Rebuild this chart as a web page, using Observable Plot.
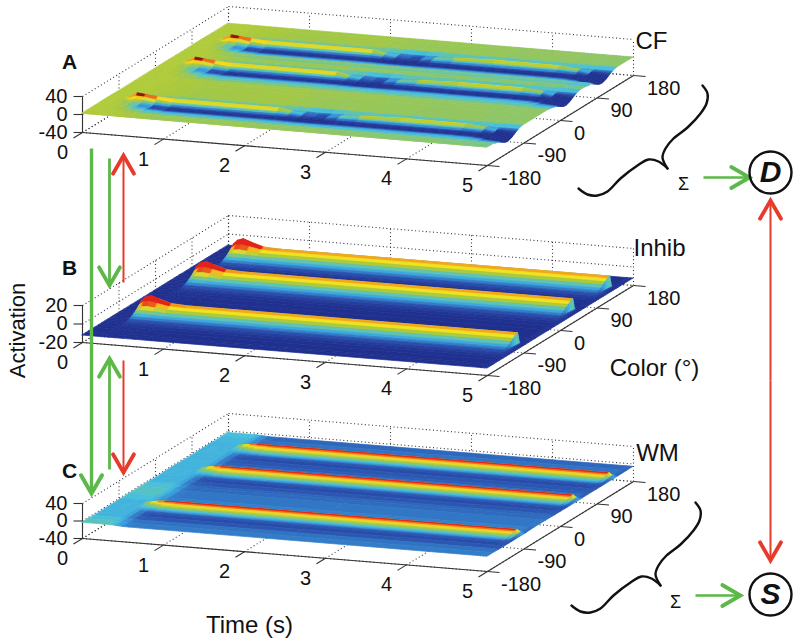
<!DOCTYPE html>
<html><head><meta charset="utf-8">
<script src="https://cdn.jsdelivr.net/npm/d3@7"></script>
<script src="https://cdn.jsdelivr.net/npm/@observablehq/plot@0.6"></script>
<style>
html,body{margin:0;padding:0;background:#fff}
svg g[aria-label="area"]{filter:blur(0.6px)}
</style></head><body><div id="chart"></div>
<script>
const timeTicks=[0,1,2,3,4,5];
const colorTicks=[-180,-90,0,90,180];
const zTicksCF=[-40,0,40], zTicksInhib=[-20,0,20], zTicksWM=[-40,0,40];

// CF field: activation relative to a stimulus colour, read per time sample
const cfTimes=[0,.2,.25,.35,.45,.6,.8,2.1,2.25,2.4,2.55,2.7,2.85,3.1,3.6,4.4,4.65,4.78,5];
const cfRest=[1.8,1.8,1.8,1.8,1.7,1.5,1.4,.9,.9,.9,.8,.8,.7,.6,.4,.2,.1,.1,0];
const cfCentres=[-113,30,119];
const cfOffsets=[-67,-55,-46,-38,-32,-27,-22,-18,-14,-10,-6,-3,0,3,6,10,20];
const cfRows=[
[0,0,0,0,0,0,0,0,0,0,0,0,0,0,0,0,0],
[0,0,0,0,0,0,0,0,0,0,0,0,0,0,0,0,0],
[0,0,0,0,0,-.2,-.4,-.5,-.4,-.2,0,1,3,1,0,0,0],
[0,0,-.3,-.6,-1,-1.4,-1.8,-2,-1.8,-1,2,8,13,8,2.5,0,0],
[0,-.3,-.8,-1.5,-3,-4,-5,-5.5,-5,-3,1,7,11,6,1,-1.5,0],
[0,-.8,-1.8,-3,-5,-7,-9,-10,-9.5,-7,-2,3,8.5,4.5,-1,-3,0],
[0,-1.2,-2.5,-4,-6.5,-9,-12,-13,-13,-10,-6,-.5,6,4.5,-2.5,-4,0],
[0,-1.2,-2.5,-4,-6.5,-9,-12,-13,-13,-10,-6,-.5,5.8,4.5,-2.5,-4,0],
[0,-1.2,-2.5,-4,-6.5,-9,-12,-13,-13,-10,-7,-4,-1,-2,-4,-4.5,0],
[0,-1.2,-2.5,-4.5,-7,-10,-13,-13.5,-13.5,-12,-10,-8,-6,-6,-6.5,-6,-.5],
[0,-1.2,-2.5,-4.5,-7,-10,-13,-14,-14,-13,-12,-11.5,-11,-11,-10,-8,-.5],
[0,-1.2,-2.5,-4.5,-7,-10,-13,-14,-13.5,-12,-11,-10,-9,-9,-9,-7,-.5],
[0,-1.2,-2.5,-4.5,-7,-9.5,-12,-13,-13,-10,-7,-5,-3,-4,-5,-5,0],
[0,-1.2,-2.5,-4.2,-6.5,-9,-12,-13,-13,-9,-5,-2,2.5,1,-3,-4.5,0],
[0,-1.2,-2.5,-4,-6.5,-9,-12,-13,-13,-9,-4,-1,5.5,4,-2.5,-4.5,0],
[0,-1.2,-2.5,-4,-6.5,-9,-12,-13,-13,-9,-4,-1,4.8,3.5,-2.5,-4.5,0],
[0,-1.2,-2.5,-4.2,-7,-10,-12.5,-13,-13,-10,-6,-3,1,-1,-3,-5,0],
[0,-1.5,-3,-6,-9,-12,-14,-15,-15,-14,-12,-10,-8,-8,-8,-6,0],
[0,-2,-5,-9,-15,-21,-26,-28,-28,-26,-23,-20,-16,-13,-10,-6,0]];
const cfOpenColours=[-180,-165,-50,-30,75,170,180];
const cfOpenValues=[0,0,0,0,0,0,0];

// Inhib field
const inhibTimes=[0,.24,.28,.33,.4,.5,.65,.85,4.92,4.935,4.97,5];
const inhibRest=[0,0,0,0,0,0,0,0,0,0,0,0];
const inhibCentres=[-89,47,138];
const inhibOffsets=[-75,-60,-50,-42,-36,-30,-25,-20,-15,-10,-5,0,3,6,12];
const inhibRows=[
[0,0,0,0,0,0,0,0,0,0,0,0,0,0,0],
[0,0,0,0,0,0,0,0,0,0,0,0,0,0,0],
[0,0,.2,.6,1.4,2.6,3.8,5.2,7,9.2,11.8,15,8,1,0],
[0,0,.2,.6,1.4,2.7,4.2,6.2,8.5,11.2,15,19,10,2,0],
[0,0,.2,.6,1.4,2.7,4.2,6.2,8.5,11.8,16,21,11,2,0],
[0,0,.2,.6,1.4,2.7,4.2,6,8.2,11,14.5,18,9,2,0],
[0,0,.2,.6,1.4,2.6,3.9,5.4,7.5,9.8,12,14,7,1,0],
[0,0,.2,.6,1.4,2.6,3.9,5.4,7.5,9.6,11.6,13,6,1,0],
[0,0,.2,.6,1.4,2.6,3.9,5.4,7.5,9.6,11.6,13,6,1,0],
[0,0,.2,.5,1.2,1.4,1.6,1.6,1.4,1.2,1,.8,.4,0,0],
[0,0,.1,.2,.4,.4,.4,.4,.3,.2,.1,0,0,0,0],
[0,0,0,0,0,0,0,0,0,0,0,0,0,0,0]];
const inhibOpenColours=[-180,-170,-60,60,160,180];
const inhibOpenValues=[0,0,0,0,0,0];

// WM field
const wmTimes=[0,.33,.36,.42,.5,.58,.72,2.5,4.92,4.96,5];
const wmRest=[2.1,2.1,2,1.2,.3,0,0,0,0,0,0];
const wmCentres=[-91,47,136];
const wmOffsets=[-60,-46,-34,-28,-24,-20,-16,-12,-8,-5,-2,0,2,4,8];
const wmRows=[
[0,0,0,0,0,0,0,0,0,0,0,0,0,0,0],
[0,0,0,0,0,0,0,0,0,0,0,0,0,0,0],
[0,0,0,0,0,0,.3,.6,1,1.2,1.3,1.3,1,.4,0],
[0,0,0,.2,.5,1,1.6,2.2,2.8,3.5,4,4,3.5,1.5,.3],
[.2,0,-.1,.3,1,1.8,2.6,3.4,4.4,5.4,6.8,7.2,6.4,3,.6],
[.3,-.1,-.2,.5,1.4,2.4,3.4,4.4,5.4,6.4,7.8,8.4,8,4,.8],
[.4,-.1,-.3,.7,1.8,3,4,5,6,7,8.3,9,8.7,4.6,1],
[.3,-.2,-.4,.7,1.8,3,4,5,6,7,8.3,9,8.7,4.6,1],
[.4,-.1,-.3,.7,1.8,3,4,5,6,7,8.3,9,8.7,4.6,1],
[.2,-.1,-.1,.1,.4,.8,1.2,1.6,2,2.4,2.8,3,2.6,1.5,.4],
[.2,0,0,0,0,0,0,0,0,0,0,0,0,0,0]];
const wmOpenColours=[-180,-165,-65,-35,-20,68,165,180];
const wmOpenValues=[.7,.9,.8,.6,.4,.1,.3,.5];

// Jet-like colour ramp as printed
const rampLevels=[0,.14,.28,.38,.44,.5,.56,.64,.72,.84,.93,1];
const rampColours=["#20308f","#2a52b0","#3a9fdc","#48c0dc","#66c4a8","#8dc66a","#a8c83e","#d0d630","#f5e41e","#f59a1e","#e2231a","#5a0c0c"];

const panels=[
 {name:"CF",floor:132,rise:36,zMin:-40,zMax:40,zTicks:zTicksCF,times:cfTimes,rest:cfRest,centres:cfCentres,offsets:cfOffsets,rows:cfRows,openC:cfOpenColours,openV:cfOpenValues,
  zOf:a=>a<0?a*.55:a,levelOf:a=>Math.min(.97,(a+12)/24)},
 {name:"Inhib",floor:342,rise:37,zMin:-20,zMax:20,zTicks:zTicksInhib,times:inhibTimes,rest:inhibRest,centres:inhibCentres,offsets:inhibOffsets,rows:inhibRows,openC:inhibOpenColours,openV:inhibOpenValues,
  zOf:a=>a-12.5,levelOf:a=>Math.min(.93,a/15)},
 {name:"WM",floor:538,rise:35,zMin:-40,zMax:40,zTicks:zTicksWM,times:wmTimes,rest:wmRest,centres:wmCentres,offsets:wmOffsets,rows:wmRows,openC:wmOpenColours,openV:wmOpenValues,
  zOf:a=>a-7,levelOf:a=>Math.min(.93,.14+.095*a)}
];

const px=(t,c)=>82+81*t+(c+180)/360*146;
const py=(p,t,c,z)=>p.floor+6.6*t-(c+180)/360*90-(z-p.zMin)/(p.zMax-p.zMin)*p.rise;

function surfaceRows(p){
  const cols=[];
  p.openC.forEach((c,i)=>cols.push({c,dev:p.times.map(()=>p.openV[i])}));
  p.centres.forEach(ctr=>p.offsets.forEach((o,j)=>cols.push({c:ctr+o,dev:p.rows.map(r=>r[j])})));
  cols.sort((a,b)=>a.c-b.c);
  const out=[];
  for(let k=cols.length-2;k>=0;k--){
    const lo=cols[k],hi=cols[k+1];
    for(let i=0;i<p.times.length-1;i++){
      const id=p.name+"-"+k+"-"+i;
      const avg=(lo.dev[i]+lo.dev[i+1]+hi.dev[i]+hi.dev[i+1])/4+(p.rest[i]+p.rest[i+1])/2;
      const level=Math.max(0,p.levelOf(avg));
      for(const n of [i,i+1]){
        const t=p.times[n];
        out.push({id,level,
          x1:px(t,lo.c),y1:py(p,t,lo.c,p.zOf(lo.dev[n]+p.rest[n])),
          x2:px(t,hi.c),y2:py(p,t,hi.c,p.zOf(hi.dev[n]+p.rest[n]))});
      }
    }
  }
  return out;
}

function gridLinks(p){
  const l=[],Z0=p.zMin,Z1=p.zMax;
  const seg=(t1,c1,z1,t2,c2,z2)=>l.push({x1:px(t1,c1),y1:py(p,t1,c1,z1),x2:px(t2,c2),y2:py(p,t2,c2,z2)});
  timeTicks.forEach(t=>{seg(t,-180,Z0,t,180,Z0);seg(t,180,Z0,t,180,Z1);});
  colorTicks.forEach(c=>{seg(0,c,Z0,5,c,Z0);seg(0,c,Z0,0,c,Z1);});
  p.zTicks.forEach(z=>{seg(0,-180,z,0,180,z);seg(0,180,z,5,180,z);});
  return l;
}
function axisLinks(p){
  const l=[],Z0=p.zMin,Z1=p.zMax;
  const y0=(t,c)=>py(p,t,c,Z0);
  l.push({x1:px(0,-180),y1:y0(0,-180),x2:px(5,-180),y2:y0(5,-180)});
  l.push({x1:px(5,-180),y1:y0(5,-180),x2:px(5,180),y2:y0(5,180)});
  l.push({x1:px(0,-180),y1:y0(0,-180),x2:px(0,-180),y2:py(p,0,-180,Z1)});
  timeTicks.forEach(t=>l.push({x1:px(t,-180),y1:y0(t,-180),x2:px(t,-180)-9,y2:y0(t,-180)+5.5}));
  colorTicks.forEach(c=>l.push({x1:px(5,c),y1:y0(5,c),x2:px(5,c)+12,y2:y0(5,c)+1}));
  p.zTicks.forEach(z=>l.push({x1:px(0,-180),y1:py(p,0,-180,z),x2:px(0,-180)-9,y2:py(p,0,-180,z)}));
  return l;
}
function tickTexts(p){
  const l=[];
  timeTicks.forEach(t=>l.push({x:px(t,-180)-20,y:py(p,t,-180,p.zMin)+20,s:String(t),a:"middle"}));
  colorTicks.forEach(c=>l.push({x:px(5,c)+13.5,y:py(p,5,c,p.zMin)+13,s:String(c),a:"start"}));
  p.zTicks.forEach(z=>l.push({x:67,y:py(p,0,-180,z),s:String(z),a:"end"}));
  return l;
}

const braceUpper=[[702,85],[707,93],[706,103],[700,113],[687,127],[673,138],[665,148],[662,157],[667,168]];
const braceLower=[[667,168],[658,161],[648,159],[637,165],[620,178],[607,191],[597,195],[587,194],[578,188]];
const shift=(a,dx,dy)=>a.map(([x,y])=>[x+dx,y+dy]);

const GREEN="#5cb848",RED="#e63a2a",FONT="Liberation Sans, Arial, sans-serif";
// shaft plus a heavier chevron head ending at the tip
function arrow(x1,y1,x2,y2,stroke,shaft,head){
  const L=Math.hypot(x2-x1,y2-y1),ux=(x2-x1)/L,uy=(y2-y1)/L,w=21,cs=Math.cos(Math.PI/6),sn=Math.sin(Math.PI/6);
  const wing=s=>[x2-w*(ux*cs-s*uy*sn),y2-w*(uy*cs+s*ux*sn)];
  return [
    Plot.link([0],{x1:()=>x1,y1:()=>y1,x2:()=>x2-ux*3,y2:()=>y2-uy*3,stroke:()=>stroke,strokeWidth:shaft}),
    Plot.line([wing(1),[x2,y2],wing(-1)],{x:d=>d[0],y:d=>d[1],stroke:()=>stroke,strokeWidth:head,strokeLinejoin:"miter",strokeMiterlimit:6})
  ];
}
const label=(x,y,s,o={})=>Plot.text([s],{x:()=>x,y:()=>y,text:d=>d,fontSize:21,fill:"#111",...o});

const marks=[];
panels.forEach(p=>{
  marks.push(Plot.link(gridLinks(p),{x1:"x1",y1:"y1",x2:"x2",y2:"y2",stroke:"#333",strokeWidth:1.1,strokeDasharray:"1 2.6"}));
  marks.push(Plot.link(axisLinks(p),{x1:"x1",y1:"y1",x2:"x2",y2:"y2",stroke:"#333",strokeWidth:1.1}));
});
panels.forEach(p=>{
  marks.push(Plot.area(surfaceRows(p),{x1:"x1",y1:"y1",x2:"x2",y2:"y2",z:"id",fill:"level",stroke:"level",strokeWidth:.7}));
});
panels.forEach(p=>{
  for(const a of ["start","middle","end"]){
    marks.push(Plot.text(tickTexts(p).filter(d=>d.a===a),{x:"x",y:"y",text:"s",textAnchor:a,fontSize:20,fill:"#111"}));
  }
});
marks.push(
  label(69,62,"A",{fontWeight:"bold"}),label(69,268,"B",{fontWeight:"bold"}),label(69,471,"C",{fontWeight:"bold"}),
  label(651,41,"CF",{fontSize:24}),label(659,248,"Inhib",{fontSize:24}),label(657,453,"WM",{fontSize:24}),
  label(654,368,"Color (°)",{fontSize:24}),
  label(249,625,"Time (s)",{fontSize:24}),
  label(17,330,"Activation",{fontSize:22,rotate:-90}),
  label(683,184,"Σ",{fontSize:18}),label(675,602,"Σ",{fontSize:18}),
  ...arrow(91,148,91,493,GREEN,3.4,4),
  ...arrow(109,158,109,285,GREEN,2.8,3.8),
  ...arrow(123,282,123,155,RED,2,3.8),
  ...arrow(109,469,109,358,GREEN,2.8,3.8),
  ...arrow(123,360,123,472,RED,2,3.8),
  ...arrow(770,380,770,200,RED,2,3.8),
  ...arrow(770,380,770,560,RED,2,3.8),
  ...arrow(703,177,749,177,GREEN,2.4,3.8),
  ...arrow(695,595,740,595,GREEN,2.4,3.8)
);
[[braceUpper,0,0],[braceLower,0,0],[braceUpper,-7,417],[braceLower,-7,417]].forEach(([b,dx,dy])=>{
  marks.push(Plot.line(shift(b,dx,dy),{x:d=>d[0],y:d=>d[1],curve:"catmull-rom",stroke:"#111",strokeWidth:2.4}));
});
marks.push(
  Plot.dot([0],{x:()=>770,y:()=>172,r:21,stroke:"#111",strokeWidth:2.4,fill:"none"}),
  Plot.dot([0],{x:()=>770,y:()=>594,r:21,stroke:"#111",strokeWidth:2.4,fill:"none"}),
  label(770,172,"D",{fontSize:30,fontWeight:"bold",fontStyle:"italic"}),
  label(770,594,"S",{fontSize:30,fontWeight:"bold",fontStyle:"italic"})
);

const chart=Plot.plot({
  width:800,height:641,margin:0,
  style:{fontFamily:FONT,background:"#fff",overflow:"visible"},
  x:{domain:[0,800],range:[0,800],axis:null},
  y:{domain:[0,641],range:[0,641],axis:null},
  color:{type:"linear",domain:rampLevels,range:rampColours,clamp:true,legend:false},
  marks
});
document.getElementById("chart").appendChild(chart);
</script></body></html>
